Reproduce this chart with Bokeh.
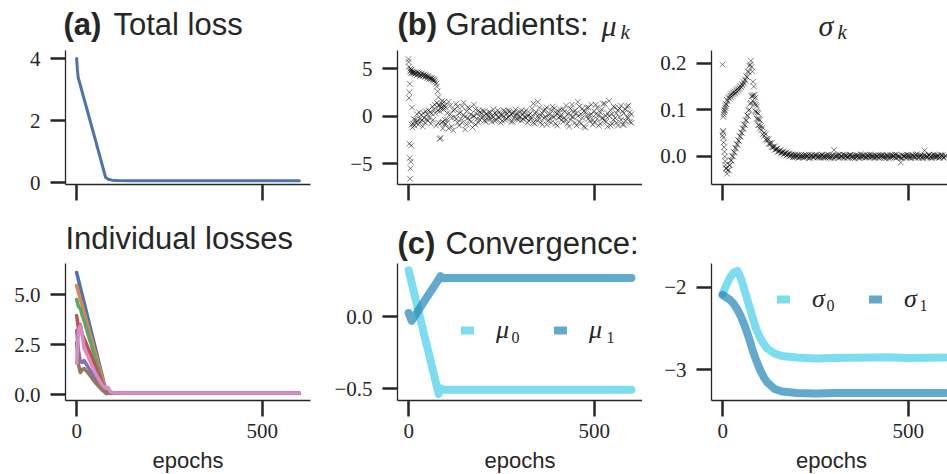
from bokeh.plotting import figure
from bokeh.models import FixedTicker, Label, Legend, LegendItem, Range1d
from bokeh.layouts import row, column
from bokeh.embed import file_html
from bokeh.resources import INLINE

# ---------------- data ----------------
x_ticks = [0, 500]
x_tick_labels = {0: "0", 500: "500"}

# (a) total loss
loss_epochs = [0, 2, 4, 10, 20, 30, 40, 50, 60, 70, 78, 85, 95, 110, 150, 300, 600]
loss_total = [4.0, 3.65, 3.4, 3.14, 2.7, 2.27, 1.83, 1.4, 0.96, 0.52, 0.17, 0.11, 0.08, 0.07, 0.06, 0.06, 0.06]

# individual losses
ind_epochs = [0, 5, 10, 15, 20, 30, 40, 50, 60, 70, 80, 85, 90, 100, 120, 600]
ind_loss_1 = [6.1, 5.72, 5.35, 4.97, 4.6, 3.85, 3.1, 2.35, 1.6, 0.85, 0.12, 0.09, 0.08, 0.07, 0.07, 0.06]
ind_loss_2 = [5.45, 5.1, 4.78, 4.45, 4.1, 3.45, 2.78, 2.1, 1.45, 0.78, 0.12, 0.09, 0.08, 0.07, 0.07, 0.06]
ind_loss_3 = [4.75, 4.4, 4.3, 3.95, 3.7, 3.05, 2.45, 1.8, 1.2, 0.55, 0.1, 0.08, 0.07, 0.07, 0.06, 0.06]
ind_loss_4 = [3.95, 3.3, 3.5, 3.0, 2.8, 2.35, 1.9, 1.45, 0.95, 0.5, 0.1, 0.08, 0.07, 0.07, 0.06, 0.06]
ind_loss_5 = [3.2, 2.2, 1.65, 1.6, 1.7, 1.4, 1.1, 0.8, 0.5, 0.25, 0.05, 0.06, 0.06, 0.06, 0.06, 0.06]
ind_loss_6 = [2.6, 1.5, 1.1, 1.25, 1.3, 1.1, 0.85, 0.6, 0.4, 0.2, 0.05, 0.06, 0.06, 0.06, 0.06, 0.06]
ind_loss_7 = [1.55, 3.2, 3.45, 3.0, 2.3, 1.95, 1.5, 1.1, 0.75, 0.45, 0.3, 0.35, 0.15, 0.08, 0.07, 0.07]
ind_colors = ["#4C72B0", "#DD8452", "#55A868", "#C44E52", "#8172B3", "#937860", "#DA8BC3"]

# (b) gradients
grad_epochs = list(range(0, 10)) + list(range(10, 100, 2)) + list(range(100, 601, 4))
grad_mu_a = [
    6.0, 5.2, 2.5, 3.4, 4.7, 5.0, 4.8, 4.5, 4.9, 4.6,
    4.7, 4.5, 4.6, 4.4, 4.6, 4.5, 4.3, 4.6, 4.4, 4.5,
    4.2, 4.4, 4.3, 4.5, 4.2, 4.3, 4.4, 4.1, 4.3, 4.2,
    4.0, 4.2, 4.1, 3.9, 4.0, 3.9, 4.0, 3.8, 3.9, 3.7,
    3.8, 3.6, 3.4, 3.1, 2.6, 2.0, 1.2, 0.5, -2.3, 0.9,
    1.3, -0.6, 0.7, 1.5, -0.9,
    0.9, -0.4, 1.5, 0.2, -1.1, 0.6, -0.1, 1.3, -0.7, 0.3,
    -0.3, 1.0, 0.1, -1.4, 0.5, -0.2, 0.8, -0.6, 0.0, 1.2,
    -0.9, 0.2, 0.6, -0.4, 0.3, -0.1, 0.5, -0.6, 0.1, 0.4,
    -0.3, 0.0, 0.7, -0.5, 0.2, -0.1, 0.4, -0.7, 0.1, 0.6,
    -0.4, 0.2, -0.1, 0.5, -0.6, 0.3, -0.2, 0.7, -0.3, 0.0,
    0.4, -0.5, 0.2, -0.1, 0.6, -0.7, 0.1, -0.2, 0.8, 1.3,
    -0.8, 0.4, 1.5, -0.3, 0.1, -0.9, 0.6, -0.1, 0.9, -0.5,
    0.2, -0.7, 1.0, -0.1, 0.4, -1.0, 0.5, 0.0, -0.4, 0.7,
    -0.2, 1.1, -0.8, 0.3, -0.4, 1.2, -0.1, 0.6, -1.0, 1.5,
    -0.6, 0.2, 0.8, -1.1, 0.4, 0.0, 0.9, -0.5, 0.2, -0.9,
    0.5, 1.2, -0.3, 0.1, -0.8, 0.7, -0.2, 1.3, -0.6, 0.3,
    1.6, -1.0, 0.2, -0.4, 0.9, -0.7, 0.6, -0.1, 1.1, -0.9,
    0.3, -0.5, 1.0, -0.2, 0.4, -0.7,
]
grad_mu_b = [
    5.7, 1.9, -2.9, -4.4, -6.6, -5.5, -4.8, -3.1, -0.9, 0.9,
    -1.2, -0.8, -0.3, -1.0, -0.4, -0.7, 0.2, -0.5, -0.9, 0.4,
    -0.3, -0.6, 0.1, -0.4, -1.1, 0.3, -0.2, -0.7, 0.5, -0.3,
    0.2, -0.5, 0.6, -0.2, 0.4, -0.8, 0.3, 1.0, -0.4, 0.7,
    1.2, 0.3, -1.0, 1.4, 0.6, -0.7, 1.1, -2.4, 0.8, -0.7,
    1.6, -1.3, 0.9, 1.1, -0.4,
    -0.8, 0.3, -1.3, 1.1, -0.2, -1.5, 0.7, -0.3, 1.0, -1.0,
    0.4, -0.7, 1.4, -0.1, -0.9, 0.9, -0.4, 0.2, -1.2, 0.0,
    0.7, -0.3, -0.7, 0.4, -0.1, 0.6, -0.5, 0.2, -0.3, 0.0,
    0.4, -0.6, -0.1, 0.3, -0.4, 0.6, -0.2, 0.1, -0.5, 0.0,
    0.5, -0.3, 0.6, 0.0, 0.2, -0.6, 0.4, 0.1, 0.3, -0.4,
    -0.1, 0.6, -0.3, 0.4, -0.2, 0.0, -0.5, 0.3, -0.2, -0.7,
    0.3, -0.4, 0.0, 0.9, -0.7, 0.3, -0.2, 0.7, -0.9, 0.1,
    -0.3, 0.6, -0.1, 0.8, -0.8, 0.2, -0.2, 0.7, 0.0, -0.6,
    0.5, -0.4, 0.2, -1.1, 0.8, -0.1, 0.4, -0.7, 0.3, 0.0,
    1.0, -0.8, -0.2, 0.5, -1.2, 0.9, -0.3, 0.1, 1.2, -0.4,
    -0.7, 0.2, 0.9, -1.0, 0.4, -0.2, 1.3, -0.5, 0.0, -1.1,
    0.0, 0.6, -0.8, 1.0, -0.2, 0.3, -1.0, 0.8, -0.4, 0.5,
    -0.9, 0.7, -0.1, 1.1, -0.6, 0.2,
]
grad_sigma_a = [
    0.197, 0.052, 0.085, 0.09, 0.095, 0.10, 0.098, 0.104, 0.108, 0.112,
    0.112, 0.121, 0.118, 0.127, 0.124, 0.131, 0.127, 0.134, 0.13, 0.137,
    0.133, 0.139, 0.135, 0.142, 0.138, 0.145, 0.141, 0.148, 0.144, 0.151,
    0.148, 0.155, 0.152, 0.16, 0.156, 0.165, 0.162, 0.172, 0.17, 0.182,
    0.181, 0.194, 0.197, 0.205, 0.192, 0.182, 0.16, 0.15, 0.132, 0.126,
    0.111, 0.107, 0.094, 0.092, 0.08,
    0.078, 0.066, 0.062, 0.051, 0.048, 0.038, 0.037, 0.029, 0.029, 0.021,
    0.022, 0.016, 0.017, 0.011, 0.014, 0.008, 0.011, 0.006, 0.009, 0.004,
    0.007, 0.002, 0.005, -0.001, 0.004, 0.0, 0.003, -0.002, 0.004, 0.001,
    -0.002, 0.003, 0.0, 0.004, -0.003, 0.002, -0.001, 0.003, 0.001, -0.002,
    0.002, -0.003, 0.004, 0.0, -0.002, 0.003, -0.001, 0.002, -0.004, 0.001,
    0.014, -0.001, 0.002, -0.003, 0.004, 0.0, -0.002, 0.003, 0.001, -0.003,
    0.002, 0.004, -0.002, 0.001, -0.004, 0.003, 0.0, -0.001, 0.005, -0.002,
    0.001, -0.003, 0.003, 0.0, -0.002, 0.004, -0.001, 0.002, -0.003, 0.001,
    0.003, -0.002, 0.0, 0.004, -0.003, 0.002, 0.001, -0.004, 0.003, -0.001,
    0.002, -0.002, 0.004, -0.001, 0.0, -0.003, 0.003, 0.001, -0.002, 0.004,
    -0.001, 0.002, -0.004, 0.003, 0.0, -0.002, 0.005, -0.001, 0.002, -0.003,
    0.001, 0.013, -0.002, 0.0, 0.004, -0.003, 0.002, -0.001, 0.003, -0.002,
    0.001, -0.003, 0.004, 0.0, -0.002, 0.002,
]
grad_sigma_b = [
    0.045, 0.055, 0.04, 0.03, 0.02, 0.01, 0.0, -0.01, -0.018, -0.025,
    -0.026, -0.037, -0.03, -0.029, -0.019, -0.018, -0.008, -0.009, 0.001, 0.0,
    0.01, 0.008, 0.019, 0.017, 0.027, 0.025, 0.035, 0.033, 0.044, 0.042,
    0.052, 0.05, 0.06, 0.059, 0.069, 0.067, 0.078, 0.077, 0.088, 0.087,
    0.099, 0.1, 0.113, 0.115, 0.129, 0.129, 0.131, 0.117, 0.113, 0.097,
    0.095, 0.081, 0.08, 0.067, 0.067,
    0.06, 0.056, 0.047, 0.044, 0.036, 0.034, 0.027, 0.026, 0.02, 0.019,
    0.014, 0.015, 0.01, 0.011, 0.007, 0.009, 0.004, 0.007, 0.002, 0.005,
    0.0, 0.004, -0.002, 0.003, -0.001, 0.002, -0.003, 0.001, 0.0, -0.002,
    0.003, -0.001, 0.002, -0.004, 0.001, 0.003, -0.002, 0.0, 0.004, -0.001,
    -0.002, 0.001, 0.003, -0.003, 0.002, -0.001, 0.004, -0.002, 0.0, 0.003,
    -0.004, 0.002, 0.0, 0.003, -0.002, 0.001, 0.004, -0.003, 0.002, 0.0,
    -0.002, 0.003, 0.001, -0.003, 0.002, -0.001, 0.003, -0.004, 0.0, 0.002,
    0.003, 0.0, -0.002, 0.002, 0.004, -0.001, 0.001, -0.003, 0.002, 0.0,
    -0.003, 0.002, 0.003, -0.001, 0.001, -0.004, 0.002, 0.0, -0.002, 0.003,
    0.0, 0.004, -0.003, 0.002, -0.001, -0.013, -0.004, 0.001, 0.002, -0.002,
    0.003, -0.003, 0.001, 0.002, -0.002, 0.004, 0.0, -0.003, 0.001, 0.002,
    -0.004, 0.002, 0.001, -0.002, 0.003, 0.0, -0.003, 0.004, -0.001, 0.001,
    0.002, -0.002, 0.0, 0.003, -0.003, 0.001,
]

# (c) convergence
mu_epochs = [0, 8, 24, 40, 60, 81, 86, 92, 100, 150, 300, 450, 600]
mu_0 = [0.32, 0.235, 0.065, -0.105, -0.315, -0.535, -0.495, -0.505, -0.505, -0.505, -0.505, -0.505, -0.505]
mu_1 = [0.025, -0.03, 0.035, 0.098, 0.176, 0.258, 0.28, 0.265, 0.267, 0.267, 0.267, 0.267, 0.267]
sig_epochs = [0, 10, 20, 30, 40, 50, 60, 70, 80, 90, 100, 110, 120, 140, 160, 200, 250, 300, 400, 450, 500, 600]
sigma_0 = [-2.08, -1.97, -1.88, -1.82, -1.80, -1.9, -2.05, -2.2, -2.35, -2.5, -2.6, -2.68, -2.74, -2.8,
           -2.83, -2.85, -2.86, -2.855, -2.85, -2.845, -2.855, -2.85]
sigma_1 = [-2.09, -2.12, -2.15, -2.2, -2.27, -2.36, -2.47, -2.6, -2.75, -2.88, -2.99, -3.08, -3.15, -3.23,
           -3.26, -3.28, -3.285, -3.28, -3.28, -3.28, -3.28, -3.28]
light_blue = "#45cfe8"
dark_blue = "#1f84b8"

# ---------------- styling helpers ----------------
INK = "#262626"
SERIF = "Liberation Serif"
SANS = "Liberation Sans"
MID = {SANS: 0.3465, SERIF: 0.3375}   # (ascent - descent) / 2, in em


def make_fig(xr, yr, fw, fh, bl, br, bt, bb, yticks, ylabels, show_xlabels):
    p = figure(frame_width=fw, frame_height=fh, x_range=Range1d(*xr), y_range=Range1d(*yr),
               output_backend="svg", toolbar_location=None, title=None,
               min_border_left=bl, min_border_right=br, min_border_top=bt, min_border_bottom=bb)
    p.outline_line_color = None
    p.grid.visible = False
    p.background_fill_color = "white"
    p.border_fill_color = "white"
    for ax in p.axis:
        ax.axis_line_color = INK
        ax.axis_line_width = 1.3
        ax.major_tick_line_color = INK
        ax.major_tick_line_width = 2.5
        ax.minor_tick_line_color = None
        ax.major_tick_in = 0
        ax.major_label_text_font = SERIF
        ax.major_label_text_font_size = "21px"
        ax.major_label_text_color = INK
    p.xaxis.major_tick_out = 16
    p.yaxis.major_tick_out = 15
    p.xaxis.ticker = FixedTicker(ticks=x_ticks)
    p.yaxis.ticker = FixedTicker(ticks=yticks)
    p.yaxis.major_label_overrides = dict(zip(yticks, ylabels))
    p.yaxis.major_label_standoff = 10
    if show_xlabels:
        p.xaxis.major_label_overrides = x_tick_labels
        p.xaxis.major_label_standoff = 7
    else:
        p.xaxis.major_label_text_font_size = "8px"
        p.xaxis.major_label_text_color = None
        p.xaxis.major_label_standoff = 0
    return p


def text_strip(height):
    t = figure(frame_width=947, frame_height=height, x_range=Range1d(0, 1), y_range=Range1d(0, 1),
               x_axis_type=None, y_axis_type=None, output_backend="svg", toolbar_location=None,
               title=None, min_border=0)
    t.outline_line_color = None
    t.background_fill_color = "white"
    t.border_fill_color = "white"
    return t


def add_text(p, x, base, text, size=31, style="normal", font=SANS, align="left"):
    # base: height of the text baseline above the frame bottom (px)
    p.add_layout(Label(x=x, y=base + MID[font] * size, x_units="screen", y_units="screen", text=text,
                       text_font=font, text_font_size=f"{size}px", text_font_style=style,
                       text_color=INK, text_baseline="middle", text_align=align))


XR = (-30, 630)
XR3 = (-30, 605.8)

# ---------------- titles row 1 (canvas y 0..44) ----------------
t1 = text_strip(44)
add_text(t1, 63, 9, "(a)", style="bold")
add_text(t1, 113, 9, "Total loss")
add_text(t1, 397, 9, "(b)", style="bold")
add_text(t1, 445, 9, "Gradients:")
add_text(t1, 601, 9, "\u03bc", size=30, style="italic", font=SERIF)
add_text(t1, 620, 5, "k", size=21, style="italic", font=SERIF)
add_text(t1, 818, 9, "\u03c3", size=30, style="italic", font=SERIF)
add_text(t1, 837, 5, "k", size=21, style="italic", font=SERIF)

# ---------------- row 1 plots (canvas y 44..215) ----------------
pa = make_fig(XR, (-0.06, 4.26), 245, 134, 65, 12, 6, 31, [0, 2, 4], ["0", "2", "4"], False)
pa.line(loss_epochs, loss_total, line_color="#4C72B0", line_width=3, line_join="round", line_cap="round")

pb = make_fig(XR, (-7.2, 6.9), 245, 134, 75, 0, 6, 31, [-5, 0, 5], ["\u22125", "0", "5"], False)
pb.scatter(grad_epochs, grad_mu_a, marker="x", size=8, line_color="black", line_alpha=0.5, line_width=1)
pb.scatter(grad_epochs, grad_mu_b, marker="x", size=8, line_color="black", line_alpha=0.5, line_width=1)

ps = make_fig(XR3, (-0.060, 0.227), 236, 134, 69, 0, 6, 31, [0.0, 0.1, 0.2], ["0.0", "0.1", "0.2"], False)
ps.scatter(grad_epochs, grad_sigma_a, marker="x", size=8, line_color="black", line_alpha=0.5, line_width=1)
ps.scatter(grad_epochs, grad_sigma_b, marker="x", size=8, line_color="black", line_alpha=0.5, line_width=1)

# ---------------- titles row 2 (canvas y 215..262) ----------------
t2 = text_strip(47)
add_text(t2, 65, 13, "Individual losses")
add_text(t2, 397, 8, "(c)", style="bold")
add_text(t2, 445, 8, "Convergence:")

# ---------------- row 2 plots (canvas y 262..447) ----------------
pi = make_fig(XR, (-0.3, 6.55), 245, 137, 65, 12, 1, 47, [0, 2.5, 5], ["0.0", "2.5", "5.0"], True)
for vals, col in zip([ind_loss_1, ind_loss_2, ind_loss_3, ind_loss_4, ind_loss_5, ind_loss_6, ind_loss_7],
                     ind_colors):
    pi.line(ind_epochs, vals, line_color=col, line_width=3.5, line_join="round", line_cap="round")

pm = make_fig(XR, (-0.58, 0.367), 245, 137, 75, 0, 1, 47, [-0.5, 0], ["\u22120.5", "0.0"], True)
r_m0 = pm.line(mu_epochs, mu_0, line_color=light_blue, line_alpha=0.7, line_width=8,
               line_join="round", line_cap="round")
r_m1 = pm.line(mu_epochs, mu_1, line_color=dark_blue, line_alpha=0.7, line_width=8,
               line_join="round", line_cap="round")

pz = make_fig(XR3, (-3.37, -1.71), 236, 137, 69, 0, 1, 47, [-3, -2], ["\u22123", "\u22122"], True)
r_s0 = pz.line(sig_epochs, sigma_0, line_color=light_blue, line_alpha=0.7, line_width=8,
               line_join="round", line_cap="round")
r_s1 = pz.line(sig_epochs, sigma_1, line_color=dark_blue, line_alpha=0.7, line_width=8,
               line_join="round", line_cap="round")


def add_legend(p, label, sub, rend, x, y, sx, sbase):
    leg = Legend(items=[LegendItem(label=label, renderers=[rend])], location=(x, y),
                 orientation="horizontal", glyph_width=13, glyph_height=30, label_standoff=22,
                 padding=0, margin=0, border_line_color=None, background_fill_alpha=0,
                 label_text_font=SERIF, label_text_font_style="italic", label_text_font_size="26px",
                 label_text_color=INK)
    p.add_layout(leg)
    add_text(p, sx, sbase, sub, size=16, style="normal", font=SERIF)


add_legend(pm, "\u03bc", "0", r_m0, 64, 55, 114, 58)
add_legend(pm, "\u03bc", "1", r_m1, 157, 55, 209, 58)
add_legend(pz, "\u03c3", "0", r_s0, 66, 86, 115, 90)
add_legend(pz, "\u03c3", "1", r_s1, 158, 86, 208, 90)

# ---------------- x-axis titles (canvas y 447..474) ----------------
t3 = text_strip(27)
for cx in [187.5, 519.5, 831]:
    add_text(t3, cx, 6, "epochs", size=22, align="center")

layout = column(t1, row(pa, pb, ps), t2, row(pi, pm, pz), t3)
open("out.html", "w").write(file_html(layout, INLINE))
